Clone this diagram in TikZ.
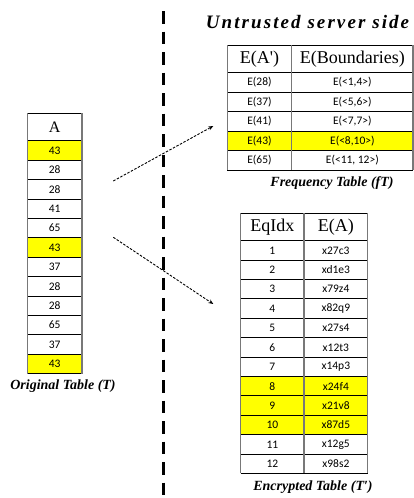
\documentclass[tikz,border=0pt]{standalone}
\usepackage{fontspec}
\setmainfont{Liberation Serif}
\newfontfamily\cellfont{Carlito}
\newfontfamily\titlefont[LetterSpace=11]{Liberation Serif}
\usetikzlibrary{arrows.meta}
\definecolor{hiyellow}{RGB}{255,255,0}
\definecolor{rulegray}{RGB}{120,120,120}
\tikzset{
  cell/.style={inner sep=0pt, outer sep=0pt, draw=none, font=\cellfont\fontsize{11.5}{12}\selectfont},
  headcell/.style={inner sep=0pt, outer sep=0pt, draw=none, fill=white, font=\fontsize{18}{20}\selectfont},
  hline/.style={line width=0.8pt, black},
  vline/.style={line width=1.3pt, rulegray},
  caption/.style={inner sep=0pt, font=\fontsize{14}{16}\selectfont\bfseries\itshape},
  flow/.style={line width=0.9pt, dash pattern=on 2.5pt off 1.5pt, -{Stealth[length=5pt,width=4pt]}},
  divider/.style={line width=3pt, dash pattern=on 12.5pt off 8pt}
}
\begin{document}
\begin{tikzpicture}[x=1pt,y=-1pt]
\useasboundingbox (0,0) rectangle (414,498);

% trust boundary
\coordinate (divtop) at (163.3,11);
\coordinate (divbot) at (163.3,498);
\draw[divider] (divtop) -- (divbot);

\node[inner sep=0pt, font=\titlefont\fontsize{19}{22}\selectfont\bfseries\itshape] (title) at (307.5,22) {Untrusted server side};

% ---------- original table A ----------
\node[headcell, minimum width=54.7pt, minimum height=27.7pt, font=\fontsize{16}{18}\selectfont] (a-h) at (54.65,126.85) {A};
\foreach \v/\c [count=\i] in {43/hiyellow,28/white,28/white,41/white,65/white,43/hiyellow,37/white,28/white,28/white,65/white,37/white,43/hiyellow}{
  \node[cell, fill=\c, minimum width=54.7pt, minimum height=19.4pt] (a-\i) at (54.65,{140.7+19.4*\i-9.7}) {\v};
}
\draw[hline] (a-h.north west) -- (a-h.north east);
\draw[hline] (a-h.south west) -- (a-h.south east);
\foreach \i in {1,...,12}{ \draw[hline] (a-\i.south west) -- (a-\i.south east); }
\draw[vline] (a-h.north west) -- (a-12.south west);
\draw[vline] (a-h.north east) -- (a-12.south east);
\node[caption] (capA) at (63,386) {Original Table (T)};

% ---------- frequency table fT ----------
\node[headcell, minimum width=64.4pt, minimum height=27.7pt] (f-h1) at (259.5,58.85) {E(A\textquotesingle)};
\node[headcell, minimum width=121.3pt, minimum height=27.7pt] (f-h2) at (352.35,58.85) {E(Boundaries)};
\foreach \u/\w/\c [count=\i] in {E(28)/E(<1{,}4>)/white, E(37)/E(<5{,}6>)/white, E(41)/E(<7{,}7>)/white, E(43)/E(<8{,}10>)/hiyellow, E(65)/E(<11{,} 12>)/white}{
  \node[cell, fill=\c, minimum width=64.4pt, minimum height=19.46pt] (f-\i-1) at (259.5,{72.7+19.46*\i-9.73}) {\u};
  \node[cell, fill=\c, minimum width=121.3pt, minimum height=19.46pt] (f-\i-2) at (352.35,{72.7+19.46*\i-9.73}) {\w};
}
\draw[hline] (f-h1.north west) -- (f-h2.north east);
\draw[hline] (f-h1.south west) -- (f-h2.south east);
\foreach \i in {1,...,5}{ \draw[hline] (f-\i-1.south west) -- (f-\i-2.south east); }
\draw[vline] (f-h1.north west) -- (f-5-1.south west);
\draw[vline] (f-h1.north east) -- (f-5-1.south east);
\draw[vline] (f-h2.north east) -- (f-5-2.south east);
\node[caption] (capF) at (332,183) {Frequency Table (fT)};

% ---------- encrypted table T' ----------
\node[headcell, minimum width=63.3pt, minimum height=27.4pt] (e-h1) at (272.35,227) {EqIdx};
\node[headcell, minimum width=63.7pt, minimum height=27.4pt] (e-h2) at (335.85,227) {E(A)};
\foreach \w/\c [count=\i] in {x27c3/white,xd1e3/white,x79z4/white,x82q9/white,x27s4/white,x12t3/white,x14p3/white,x24f4/hiyellow,x21v8/hiyellow,x87d5/hiyellow,x12g5/white,x98s2/white}{
  \node[cell, fill=\c, minimum width=63.3pt, minimum height=19.39pt] (e-\i-1) at (272.35,{240.7+19.39*\i-9.695}) {\i};
  \node[cell, fill=\c, minimum width=63.7pt, minimum height=19.39pt] (e-\i-2) at (335.85,{240.7+19.39*\i-9.695}) {\w};
}
\draw[hline] (e-h1.north west) -- (e-h2.north east);
\draw[hline] (e-h1.south west) -- (e-h2.south east);
\foreach \i in {1,...,12}{ \draw[hline] (e-\i-1.south west) -- (e-\i-2.south east); }
\draw[vline] (e-h1.north west) -- (e-12-1.south west);
\draw[vline] (e-h1.north east) -- (e-12-1.south east);
\draw[vline] (e-h2.north east) -- (e-12-2.south east);
\node[caption] (capE) at (313,487) {Encrypted Table (T′)};

% ---------- flows across the boundary ----------
\coordinate (up-s) at (113.3,181);
\coordinate (up-e) at (213.3,126);
\coordinate (dn-s) at (113.3,237.3);
\coordinate (dn-e) at (213.3,304);
\draw[flow] (up-s) -- (up-e);
\draw[flow] (dn-s) -- (dn-e);
\end{tikzpicture}
\end{document}
